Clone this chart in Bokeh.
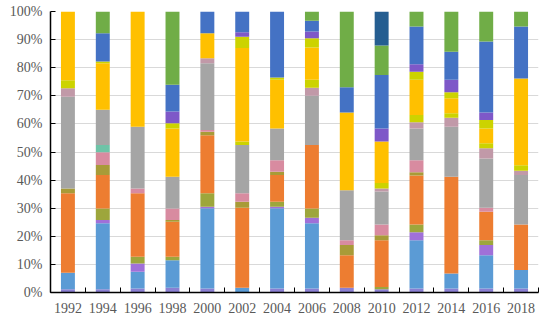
from bokeh.plotting import figure
from bokeh.models import ColumnDataSource, FixedTicker, PrintfTickFormatter, Range1d
from bokeh.embed import file_html
from bokeh.resources import INLINE

years = [1992, 1994, 1996, 1998, 2000, 2002, 2004, 2006, 2008, 2010, 2012, 2014, 2016, 2018]
y_ticks = [0, 10, 20, 30, 40, 50, 60, 70, 80, 90, 100]

# segment shares (%) from bottom to top
s_z = [1.2, 1.2, 1.4, 1.7, 1.4, 0, 1.4, 1.4, 1.7, 1.2, 1.4, 1.4, 1.4, 1.4]
s_a = [5.8, 23.4, 6.0, 9.8, 28.6, 1.7, 28.6, 23.2, 0, 0, 17.2, 5.4, 11.9, 6.6]
s_b = [0, 1.2, 2.9, 0, 0.5, 0, 0.5, 2.0, 0, 0, 2.8, 0, 3.6, 0]
s_c = [0, 4.1, 2.4, 1.2, 4.8, 0, 1.8, 3.3, 0, 0.8, 2.8, 0, 1.7, 0]
s_d = [28.3, 11.9, 22.6, 12.5, 20.7, 28.5, 9.5, 22.6, 11.6, 16.6, 17.4, 34.4, 10.1, 16.2]
s_e = [1.7, 3.6, 0, 0.6, 1.2, 2.1, 1.2, 0, 3.6, 1.8, 1.2, 0, 0, 0]
s_f = [0, 4.5, 1.7, 4.1, 0.6, 3.0, 4.1, 0, 1.7, 3.8, 4.3, 0, 1.5, 0]
s_g = [0, 2.6, 0, 0, 0, 0, 0, 0, 0, 0, 0, 0, 0, 0]
s_h = [32.7, 12.5, 22.0, 11.3, 23.8, 17.2, 11.3, 17.5, 17.8, 11.7, 11.3, 17.8, 17.5, 17.6]
s_p = [3.0, 0, 0, 0, 1.8, 0, 0, 2.9, 0, 1.1, 2.2, 3.2, 3.6, 1.5]
s_i = [2.8, 0, 0, 0, 0, 1.2, 0, 2.8, 0, 2.0, 2.6, 1.6, 1.8, 2.0]
s_j = [24.5, 16.6, 41.0, 17.2, 8.9, 33.3, 17.3, 11.5, 27.7, 14.7, 12.5, 5.3, 5.3, 30.9]
s_k = [0, 0.6, 0, 1.8, 0, 4.0, 0.8, 3.3, 0, 0, 2.9, 2.2, 3.0, 0]
s_l = [0, 0, 0, 4.2, 0, 1.6, 0, 2.4, 0, 4.7, 2.6, 4.4, 2.7, 0]
s_m = [0, 10.1, 0, 9.5, 7.7, 7.4, 23.5, 3.8, 8.9, 19.0, 13.5, 10.0, 25.2, 18.5]
s_n = [0, 7.7, 0, 26.1, 0, 0, 0, 3.3, 27.0, 10.5, 5.3, 14.3, 10.7, 5.3]
s_o = [0, 0, 0, 0, 0, 0, 0, 0, 0, 12.1, 0, 0, 0, 0]

series = {
    "s_z": s_z, "s_a": s_a, "s_b": s_b, "s_c": s_c, "s_d": s_d, "s_e": s_e,
    "s_f": s_f, "s_g": s_g, "s_h": s_h, "s_p": s_p, "s_i": s_i, "s_j": s_j,
    "s_k": s_k, "s_l": s_l, "s_m": s_m, "s_n": s_n, "s_o": s_o,
}
colors = ["#8B80D2", "#5B9BD5", "#A070D8", "#9DA63C", "#ED7D31", "#A89B38",
          "#D88BA0", "#6EC3A7", "#A5A5A5", "#C199A8", "#CCD300", "#FFC000",
          "#CCD300", "#7E58C8", "#4472C4", "#70AD47", "#255E91"]

data = {"year": years}
data.update(series)
source = ColumnDataSource(data)

p = figure(width=548, height=320, output_backend="svg", toolbar_location=None,
           x_range=Range1d(1991, 2019), y_range=Range1d(0, 100),
           min_border_left=50, min_border_right=10, min_border_top=11, min_border_bottom=28)
p.outline_line_color = None
p.background_fill_color = "white"

p.vbar_stack(list(series.keys()), x="year", width=0.8, source=source,
             color=colors, line_width=0)

font = "Liberation Serif"
p.xgrid.grid_line_color = None
p.ygrid.grid_line_color = "#D9D9D9"
p.ygrid.grid_line_width = 1
p.ygrid.ticker = FixedTicker(ticks=y_ticks)

p.yaxis.ticker = FixedTicker(ticks=y_ticks)
p.yaxis.formatter = PrintfTickFormatter(format="%d%%")
p.yaxis.major_tick_in = 5
p.yaxis.major_tick_out = 0
p.yaxis.minor_tick_line_color = None
p.yaxis.axis_line_color = "black"
p.yaxis.axis_line_width = 1.5
p.yaxis.major_tick_line_color = "black"
p.yaxis.major_label_standoff = 8
p.yaxis.major_label_text_font = font
p.yaxis.major_label_text_font_size = "14px"
p.yaxis.major_label_text_color = "#595959"

p.xaxis.ticker = FixedTicker(ticks=years, minor_ticks=[y - 1 for y in years] + [2019])
p.xaxis.major_tick_in = 0
p.xaxis.major_tick_out = 0
p.xaxis.minor_tick_in = 5
p.xaxis.minor_tick_out = 0
p.xaxis.minor_tick_line_color = "black"
p.xaxis.axis_line_color = "black"
p.xaxis.axis_line_width = 1.5
p.xaxis.major_label_standoff = 10
p.xaxis.major_label_text_font = font
p.xaxis.major_label_text_font_size = "14px"
p.xaxis.major_label_text_color = "#595959"

open("out.html", "w").write(file_html(p, INLINE))
